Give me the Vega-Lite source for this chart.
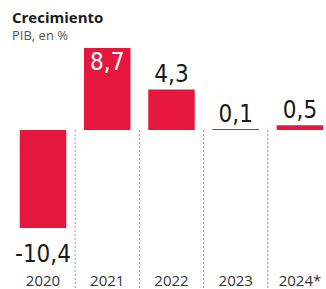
{
  "$schema": "https://vega.github.io/schema/vega-lite/v6.json",
  "width": 316,
  "height": 223,
  "autosize": {"type": "none"},
  "padding": {"left": 10, "top": 45, "right": 0, "bottom": 21},
  "background": "white",
  "title": {
    "text": "Crecimiento",
    "subtitle": "PIB, en %",
    "anchor": "start",
    "frame": "group",
    "font": "Open Sans",
    "fontSize": 15,
    "fontWeight": "bold",
    "color": "#1a1a1a",
    "subtitleFont": "Open Sans",
    "subtitleFontSize": 13,
    "subtitleColor": "#555",
    "subtitlePadding": 4,
    "offset": 2,
    "dx": 2
  },
  "data": {
    "values": [
      {"year": "2020", "v": -10.4, "label": "-10,4"},
      {"year": "2021", "v": 8.7, "label": "8,7"},
      {"year": "2022", "v": 4.3, "label": "4,3"},
      {"year": "2023", "v": 0.1, "label": "0,1"},
      {"year": "2024*", "v": 0.5, "label": "0,5"}
    ]
  },
  "encoding": {
    "x": {
      "field": "year",
      "type": "nominal",
      "sort": null,
      "scale": {"range": [9.75, 313.25], "paddingInner": 0.276, "paddingOuter": 0},
      "axis": {
        "title": null,
        "domain": false,
        "ticks": false,
        "grid": false,
        "labelAngle": 0,
        "labelFont": "Open Sans",
        "labelFontSize": 15,
        "labelColor": "#333",
        "labelPadding": 5
      }
    }
  },
  "layer": [
    {
      "transform": [{"filter": "datum.year != '2024*'"}],
      "mark": {"type": "rule", "color": "#999", "strokeDash": [2, 2], "strokeWidth": 1},
      "encoding": {
        "x": {"field": "year", "type": "nominal", "sort": null, "bandPosition": 1.19},
        "y": {"datum": 0, "type": "quantitative", "scale": {"domain": [-10.4, 8.7], "range": [183, 3], "nice": false, "zero": false}, "axis": null},
        "y2": {"datum": -17}
      }
    },
    {
      "mark": {"type": "bar", "color": "#e5173c"},
      "encoding": {
        "y": {"field": "v", "type": "quantitative"},
        "y2": {"datum": 0}
      }
    },
    {
      "mark": {"type": "rule", "color": "#333", "strokeWidth": 1.5},
      "encoding": {
        "y": {"datum": 0, "type": "quantitative"}
      }
    },
    {
      "transform": [{"filter": "datum.v > 5"}],
      "mark": {"type": "text", "font": "DejaVu Sans Condensed", "fontSize": 24, "color": "white", "baseline": "alphabetic", "dy": 22},
      "encoding": {
        "y": {"field": "v", "type": "quantitative"},
        "text": {"field": "label"}
      }
    },
    {
      "transform": [{"filter": "datum.v >= 0 && datum.v <= 5"}],
      "mark": {"type": "text", "font": "DejaVu Sans Condensed", "fontSize": 24, "color": "#1a1a1a", "baseline": "alphabetic", "dy": -7},
      "encoding": {
        "y": {"field": "v", "type": "quantitative"},
        "text": {"field": "label"}
      }
    },
    {
      "transform": [{"filter": "datum.v < 0"}],
      "mark": {"type": "text", "font": "DejaVu Sans Condensed", "fontSize": 24, "color": "#1a1a1a", "baseline": "alphabetic", "dy": 34},
      "encoding": {
        "y": {"field": "v", "type": "quantitative"},
        "text": {"field": "label"}
      }
    }
  ],
  "config": {"view": {"stroke": null}}
}
